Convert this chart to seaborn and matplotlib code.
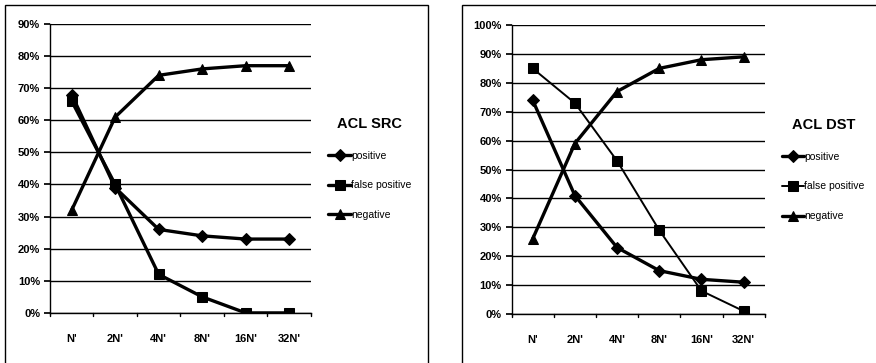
import matplotlib
matplotlib.use("Agg")
import matplotlib.pyplot as plt
from matplotlib.patches import Rectangle
from matplotlib.ticker import PercentFormatter, FixedLocator
import seaborn as sns
import pandas as pd

categories = ["N'", "2N'", "4N'", "8N'", "16N'", "32N'"]
series_names = ["positive", "false positive", "negative"]

src_positive = [68, 39, 26, 24, 23, 23]
src_false_positive = [66, 40, 12, 5, 0, 0]
src_negative = [32, 61, 74, 76, 77, 77]

dst_positive = [74, 41, 23, 15, 12, 11]
dst_false_positive = [85, 73, 53, 29, 8, 1]
dst_negative = [26, 59, 77, 85, 88, 89]

sns.set_theme(style="white")
plt.rcParams["font.family"] = ["Liberation Sans", "DejaVu Sans"]
plt.rcParams["text.color"] = "black"
plt.rcParams["xtick.color"] = "black"
plt.rcParams["ytick.color"] = "black"
plt.rcParams["axes.labelcolor"] = "black"

fig = plt.figure(figsize=(8.76, 3.63), dpi=100)

markers = {"positive": "D", "false positive": "s", "negative": "^"}
msizes = {"positive": 6, "false positive": 7, "negative": 7}


def make_frame(pos, fp, neg):
    rows = []
    for name, vals in zip(series_names, (pos, fp, neg)):
        for c, v in zip(categories, vals):
            rows.append({"category": c, "series": name, "value": v})
    return pd.DataFrame(rows)


def draw_panel(rect, df, ymax, title, fp_lw):
    ax = fig.add_axes(rect)
    for name in series_names:
        sub = df[df["series"] == name]
        lw = fp_lw if name == "false positive" else 2.4
        sns.lineplot(data=sub, x="category", y="value", ax=ax, color="black",
                     marker=markers[name], markersize=msizes[name],
                     markeredgecolor="black", linewidth=lw, label=name,
                     sort=False)
    ax.set_xlim(-0.5, len(categories) - 0.5)
    ax.set_ylim(0, ymax)
    ax.yaxis.set_major_locator(FixedLocator(list(range(0, ymax + 1, 10))))
    ax.yaxis.set_major_formatter(PercentFormatter(decimals=0))
    ax.grid(axis="y", color="black", linewidth=1.0)
    ax.set_axisbelow(True)
    for s in ("top", "right"):
        ax.spines[s].set_visible(False)
    for s in ("left", "bottom"):
        ax.spines[s].set_color("black")
        ax.spines[s].set_linewidth(1.0)
    ax.set_xlabel("")
    ax.set_ylabel("")
    ax.tick_params(axis="x", length=0, pad=15, labelsize=8)
    ax.tick_params(axis="y", length=4, direction="out", left=True,
                   color="black", labelsize=8, pad=3)
    # category separators on the x axis
    for i in range(len(categories) + 1):
        ax.plot([i - 0.5, i - 0.5], [0, -ymax * 0.012], color="black",
                lw=1.0, clip_on=False, transform=ax.transData)
    for lab in ax.get_xticklabels() + ax.get_yticklabels():
        lab.set_fontweight("bold")
    leg = ax.legend(loc="center left", bbox_to_anchor=(1.05, 0.5),
                    frameon=False, title=title, fontsize=7.5,
                    handlelength=2.2, handletextpad=0.0, labelspacing=1.9,
                    borderaxespad=0)
    leg.get_title().set_fontsize(10.5)
    leg.get_title().set_fontweight("bold")
    leg._legend_box.align = "center"
    return ax


draw_panel([0.057, 0.138, 0.298, 0.796],
           make_frame(src_positive, src_false_positive, src_negative),
           90, "ACL SRC", 2.4)
draw_panel([0.584, 0.135, 0.289, 0.796],
           make_frame(dst_positive, dst_false_positive, dst_negative),
           100, "ACL DST", 1.4)

# chart frames
fig.patches.append(Rectangle((5 / 876, -0.05), 423 / 876, 1.036,
                             transform=fig.transFigure, fill=False,
                             edgecolor="black", linewidth=1.0))
fig.patches.append(Rectangle((462 / 876, -0.05), 420 / 876, 1.036,
                             transform=fig.transFigure, fill=False,
                             edgecolor="black", linewidth=1.0))

fig.savefig("out.png", dpi=100)
